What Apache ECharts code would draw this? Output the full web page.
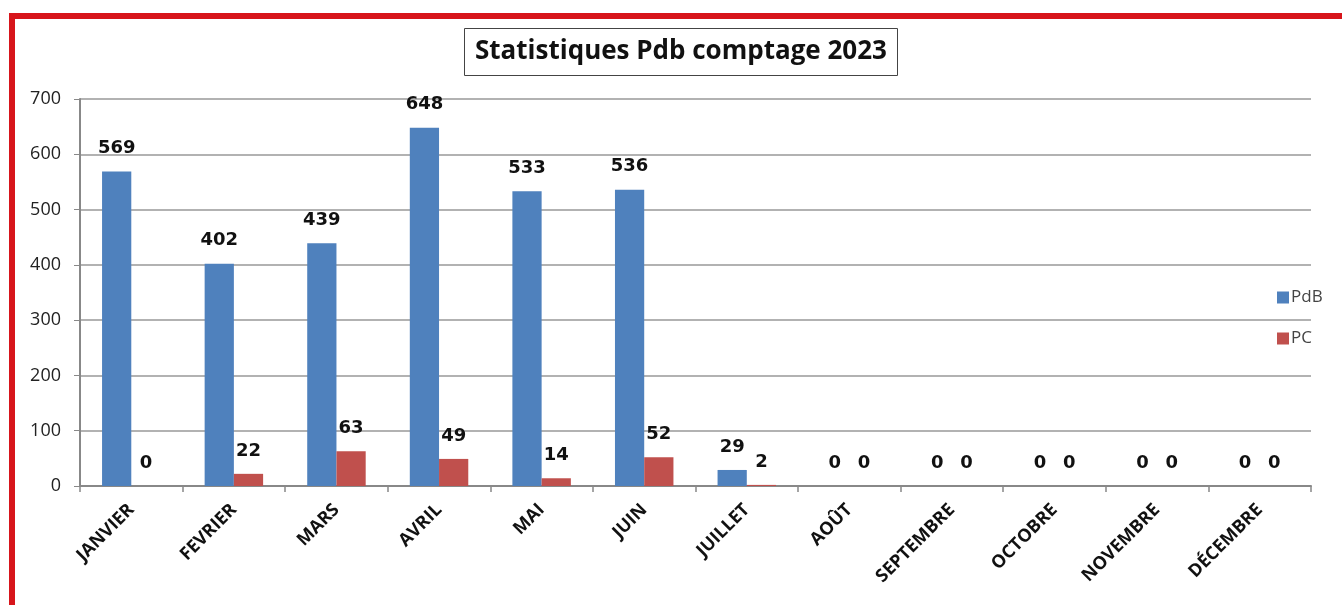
<!DOCTYPE html>
<html>
<head>
<meta charset="utf-8">
<script src="https://cdn.jsdelivr.net/npm/echarts@6/dist/echarts.min.js"></script>
<style>
html,body{margin:0;padding:0;background:#fff;}
#chart{width:1342px;height:605px;}
</style>
</head>
<body>
<div id="chart"></div>
<script>
var months = ["JANVIER","FEVRIER","MARS","AVRIL","MAI","JUIN","JUILLET","AOÛT","SEPTEMBRE","OCTOBRE","NOVEMBRE","DÉCEMBRE"];
var pdb = [569,402,439,648,533,536,29,0,0,0,0,0];
var pc = [0,22,63,49,14,52,2,0,0,0,0,0];
var yTicks = [0,100,200,300,400,500,600,700];

var font = "'Open Sans', sans-serif";
// étiquettes de valeurs au-dessus des barres
var lbl = {show:true, position:"top", distance:14, color:"#111", fontWeight:"bold", fontSize:18, fontFamily:"'DejaVu Sans', sans-serif"};

var myChart = echarts.init(document.getElementById("chart"));
myChart.setOption({
	animation:false,
	title:{
		text:"Statistiques Pdb comptage 2023",
		left:464, top:28,
		padding:[11,11,11,11],
		borderColor:"#444", borderWidth:1,
		textStyle:{fontFamily:font, fontWeight:"bold", fontSize:26, color:"#111"}
	},
	legend:{
		orient:"vertical",
		left:1272, top:284,
		itemWidth:12, itemHeight:12, itemGap:24,
		icon:"rect",
		textStyle:{fontFamily:font, fontSize:17, color:"#444", padding:[0,0,0,-3]},
		data:["PdB","PC"]
	},
	grid:{left:80, right:31, top:99, bottom:119, containLabel:false},
	xAxis:{
		type:"category",
		data:months,
		axisLine:{lineStyle:{color:"#888", width:2}},
		axisTick:{show:true, length:6, lineStyle:{color:"#888", width:1.5}},
		axisLabel:{rotate:45, interval:0, margin:21, color:"#111", fontWeight:"bold", fontSize:18, fontFamily:font}
	},
	yAxis:{
		type:"value",
		min:0, max:700, interval:100,
		axisLine:{show:true, lineStyle:{color:"#888", width:2}},
		axisTick:{show:true, length:6, lineStyle:{color:"#888"}},
		splitLine:{lineStyle:{color:"#999", width:1.5}},
		axisLabel:{margin:19, color:"#222", fontSize:18, fontFamily:font,
			formatter:function(v){return yTicks.indexOf(v) >= 0 ? v : "";}}
	},
	series:[
		{name:"PdB", type:"bar", data:pdb, itemStyle:{color:"#4F81BD"}, barGap:"0%", barCategoryGap:"43%", label:lbl},
		{name:"PC", type:"bar", data:pc, itemStyle:{color:"#C0504D"}, label:lbl}
	],
	graphic:[
		{type:"rect", shape:{x:12, y:16, width:1400, height:700}, style:{fill:"none", stroke:"#d7151b", lineWidth:6}, z:100}
	]
});
</script>
</body>
</html>
